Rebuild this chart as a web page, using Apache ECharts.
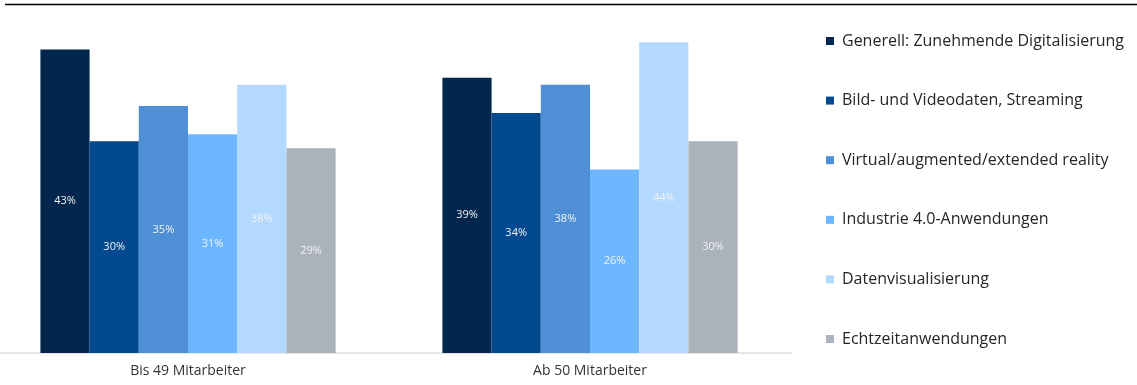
<!DOCTYPE html>
<html>
<head>
<meta charset="utf-8">
<script src="https://cdn.jsdelivr.net/npm/echarts@6/dist/echarts.min.js"></script>
<style>
html,body{margin:0;padding:0;background:#fff;}
#c{width:1137px;height:385px;}
</style>
</head>
<body>
<div id="c"></div>
<script>
const categories = ['Bis 49 Mitarbeiter', 'Ab 50 Mitarbeiter'];
const seriesNames = [
  'Generell: Zunehmende Digitalisierung',
  'Bild- und Videodaten, Streaming',
  'Virtual/augmented/extended reality',
  'Industrie 4.0-Anwendungen',
  'Datenvisualisierung',
  'Echtzeitanwendungen'
];
const generell = [43, 39];
const bildVideo = [30, 34];
const virtualReality = [35, 38];
const industrie40 = [31, 26];
const datenvis = [38, 44];
const echtzeit = [29, 30];
const seriesValues = [generell, bildVideo, virtualReality, industrie40, datenvis, echtzeit];
const colors = ['#03264f', '#02498f', '#4e8fd6', '#6cb7ff', '#b3d9ff', '#aab2bb'];

const font = '"Open Sans", Lato, sans-serif';
const chart = echarts.init(document.getElementById('c'), null, {renderer: 'canvas'});
chart.setOption({
  animation: false,
  color: colors,
  graphic: [{
    type: 'line',
    shape: {x1: 5, y1: 4.5, x2: 1137, y2: 4.5},
    style: {stroke: '#000', lineWidth: 1.5}
  }],
  grid: {left: -13, right: 346, top: 0, bottom: 32, containLabel: false, outerBoundsMode: 'none'},
  legend: {
    orient: 'vertical',
    left: 826,
    top: 33,
    padding: 0,
    icon: 'rect',
    itemWidth: 8,
    itemHeight: 8,
    itemGap: 43.6,
    textStyle: {fontFamily: font, fontSize: 16, color: '#262626', padding: [0, 0, 0, 3]},
    data: seriesNames
  },
  xAxis: {
    type: 'category',
    data: categories,
    axisLine: {show: true, lineStyle: {color: '#e6e6e6', width: 2}},
    axisTick: {show: false},
    axisLabel: {fontFamily: font, fontSize: 14, color: '#333', margin: 11}
  },
  yAxis: {
    type: 'value',
    min: 0,
    max: 50,
    show: false,
    splitLine: {show: false}
  },
  series: seriesNames.map((name, i) => ({
    name: name,
    type: 'bar',
    data: seriesValues[i],
    barWidth: 49.2,
    barGap: '0%',
    label: {
      show: true,
      position: 'inside',
      formatter: '{c}%',
      fontFamily: font,
      fontSize: 11,
      color: '#f2f2f2'
    }
  }))
});
</script>
</body>
</html>
